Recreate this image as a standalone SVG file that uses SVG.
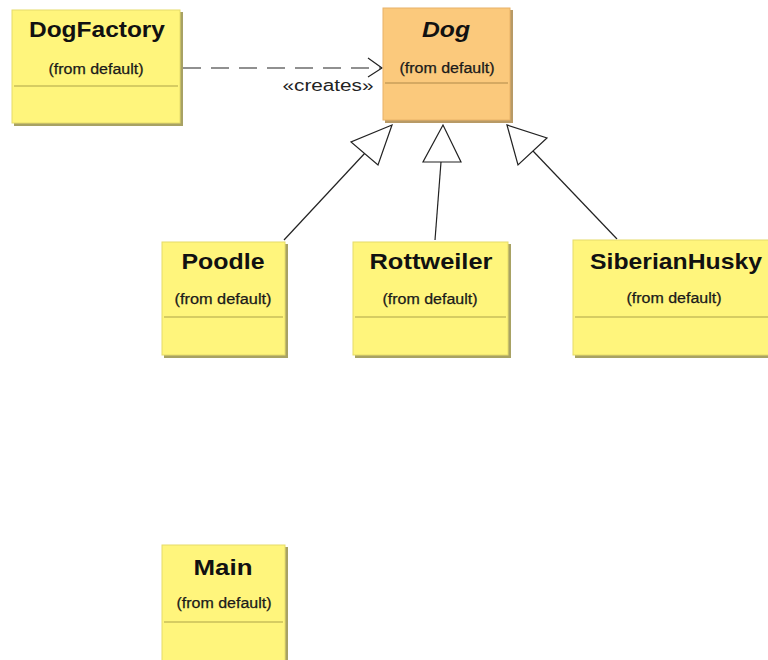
<svg xmlns="http://www.w3.org/2000/svg" width="768" height="660" viewBox="0 0 768 660">
<style>
.box{fill:#FFF57C;stroke:#E6DC6A;stroke-width:1}
.dog{fill:#FBC97C;stroke:#E8B268;stroke-width:1}
.sh{fill:none;stroke:#A8A264;stroke-width:3}
.shd{fill:none;stroke:#B89A66;stroke-width:3}
.div{stroke:#C8BE5A;stroke-width:1.5}
.divd{stroke:#C89E5A;stroke-width:1.5}
.t{font-family:"Liberation Sans",Arial,sans-serif;font-weight:bold;font-size:22px;fill:#111;text-anchor:middle}
.s{font-family:"Liberation Sans",Arial,sans-serif;font-size:14px;fill:#1a1a1a;text-anchor:middle;stroke:#1a1a1a;stroke-width:0.25}
.c{fill:none;stroke:#222;stroke-width:1.2}
.tri{fill:#fff;stroke:#222;stroke-width:1.2}
</style>
<rect width="768" height="660" fill="#fff"/>
<g id="connectors">
<line class="c" x1="183" y1="68" x2="381" y2="68" stroke-dasharray="18,10" stroke-width="1.6"/>
<polyline class="c" points="368,58 382,68 368,77" stroke-width="1.6"/>
<text x="328" y="91" style="font-family:'Liberation Sans',Arial,sans-serif;font-size:16px;fill:#222;text-anchor:middle" textLength="91" lengthAdjust="spacingAndGlyphs">«creates»</text>
<line class="c" x1="284" y1="240" x2="365" y2="153"/>
<polygon class="tri" points="392,125 351,142 378,165"/>
<line class="c" x1="435" y1="240" x2="441" y2="162"/>
<polygon class="tri" points="443,125 423,162 461,162"/>
<line class="c" x1="617" y1="239" x2="533" y2="151"/>
<polygon class="tri" points="507,125 518,165 547,138"/>
</g>
<g id="DogFactory">
<polyline class="sh" points="181.5,12 181.5,124.5 14,124.5"/>
<rect class="box" x="12" y="10" width="168" height="113"/>
<line class="div" x1="14" y1="86" x2="178" y2="86"/>
<text class="t" x="97" y="37" textLength="136" lengthAdjust="spacingAndGlyphs">DogFactory</text>
<text class="s" x="96" y="74" textLength="95" lengthAdjust="spacingAndGlyphs">(from default)</text>
</g>
<g id="Dog">
<polyline class="shd" points="511.5,10 511.5,121.5 385,121.5"/>
<rect class="dog" x="383" y="8" width="127" height="112"/>
<line class="divd" x1="385" y1="83" x2="508" y2="83"/>
<text class="t" x="446" y="37" font-style="italic" textLength="48" lengthAdjust="spacingAndGlyphs">Dog</text>
<text class="s" x="447" y="73" textLength="95" lengthAdjust="spacingAndGlyphs">(from default)</text>
</g>
<g id="Poodle">
<polyline class="sh" points="286.5,244 286.5,356.5 164,356.5"/>
<rect class="box" x="162" y="242" width="123" height="113"/>
<line class="div" x1="164" y1="317" x2="283" y2="317"/>
<text class="t" x="223" y="269" textLength="83" lengthAdjust="spacingAndGlyphs">Poodle</text>
<text class="s" x="223" y="304" textLength="97" lengthAdjust="spacingAndGlyphs">(from default)</text>
</g>
<g id="Rottweiler">
<polyline class="sh" points="509.5,244 509.5,356.5 355,356.5"/>
<rect class="box" x="353" y="242" width="155" height="113"/>
<line class="div" x1="355" y1="317" x2="506" y2="317"/>
<text class="t" x="431" y="269" textLength="123" lengthAdjust="spacingAndGlyphs">Rottweiler</text>
<text class="s" x="430" y="304" textLength="95" lengthAdjust="spacingAndGlyphs">(from default)</text>
</g>
<g id="SiberianHusky">
<polyline class="sh" points="575,356.5 770,356.5"/>
<rect class="box" x="573" y="240" width="200" height="115"/>
<line class="div" x1="575" y1="317" x2="770" y2="317"/>
<text class="t" x="676" y="269" textLength="172" lengthAdjust="spacingAndGlyphs">SiberianHusky</text>
<text class="s" x="674" y="303" textLength="95" lengthAdjust="spacingAndGlyphs">(from default)</text>
</g>
<g id="Main">
<polyline class="sh" points="286.5,547 286.5,662"/>
<rect class="box" x="162" y="545" width="123" height="120"/>
<line class="div" x1="164" y1="622" x2="283" y2="622"/>
<text class="t" x="223" y="575" textLength="59" lengthAdjust="spacingAndGlyphs">Main</text>
<text class="s" x="224" y="608" textLength="95" lengthAdjust="spacingAndGlyphs">(from default)</text>
</g>
</svg>
